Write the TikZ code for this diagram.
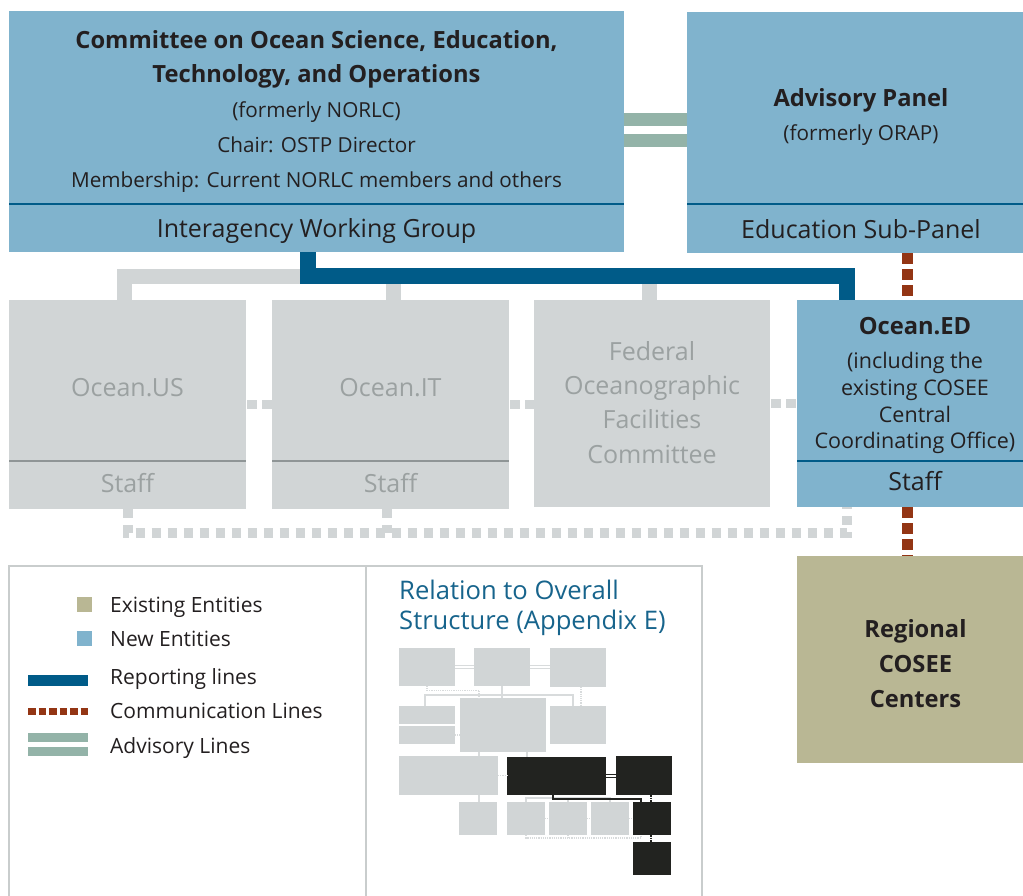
\documentclass[tikz,border=0pt]{standalone}
\usepackage{fontspec}
\setmainfont{Open Sans}
\usetikzlibrary{calc}

\definecolor{newblue}{HTML}{80B3CD}
\definecolor{repblue}{HTML}{005B88}
\definecolor{khaki}{HTML}{B9B794}
\definecolor{boxgrey}{HTML}{D1D5D6}
\definecolor{greytext}{HTML}{9BA1A1}
\definecolor{greyrule}{HTML}{8F9596}
\definecolor{advgreen}{HTML}{93B3A8}
\definecolor{commred}{HTML}{933514}
\definecolor{ink}{HTML}{231F20}
\definecolor{frame}{HTML}{C9CDCD}
\definecolor{titleblue}{HTML}{17648C}
\definecolor{miniblack}{HTML}{222320}
\definecolor{minigrey}{HTML}{D8DBDC}

% rectangle block given by its corners: name, x1, y1, x2, y2, style
\newcommand\blk[6]{\node[#6,minimum width={#4pt-#2pt},minimum height={#5pt-#3pt}] (#1) at (#2,#3) {};}
% one line of text: name, x, y (baseline), style, text
\newcommand\tline[5]{\node[#4] (#1) at (#2,#3) {#5};}

\begin{document}
\begin{tikzpicture}[x=1pt,y=-1pt,
  box/.style={rectangle, inner sep=0pt, outer sep=0pt, anchor=north west},
  newbox/.style={box, fill=newblue},
  oldbox/.style={box, fill=khaki},
  greybox/.style={box, fill=boxgrey},
  mgrey/.style={box, fill=boxgrey},
  mblack/.style={box, fill=miniblack},
  framebox/.style={box, draw=frame, line width=1.2pt},
  bluediv/.style={draw=repblue, line width=2.5pt},
  greydiv/.style={draw=greyrule, line width=2pt},
  report/.style={draw=repblue, line width=16pt, line join=miter},
  tree/.style={draw=boxgrey, line width=15pt, line join=miter},
  peerlink/.style={draw=boxgrey, line width=9pt, dash pattern=on 10pt off 5pt, dash phase=14pt},
  stafflink/.style={draw=boxgrey, line width=10pt, dash pattern=on 9pt off 7pt},
  comm/.style={draw=commred, line width=11pt, dash pattern=on 11pt off 5pt},
  advbar/.style={draw=advgreen, line width=13pt},
  txt/.style={anchor=base, inner sep=0pt, text=ink},
  bigt/.style={txt, font=\fontsize{25}{30}\selectfont},
  subt/.style={txt, font=\fontsize{20.7}{25}\selectfont},
  edsub/.style={txt, font=\fontsize{21.5}{26}\selectfont},
  boldt/.style={txt, font=\bfseries\fontsize{23.7}{28}\selectfont},
  greyt/.style={bigt, text=greytext},
  legt/.style={txt, anchor=base west, font=\fontsize{21}{25}\selectfont},
  relt/.style={txt, anchor=base west, text=titleblue, font=\fontsize{25.6}{30}\selectfont},
  mline/.style={draw=minigrey, line width=2.3pt, line join=miter},
  mdot/.style={draw=minigrey, line width=1.2pt, dash pattern=on 1.2pt off 1pt},
  mdouble/.style={draw=minigrey, line width=1.3pt, double=white, double distance=1.2pt},
  mdoubleblack/.style={draw=miniblack, line width=1.3pt, double=white, double distance=1.2pt},
  mblackline/.style={draw=miniblack, line width=2pt, line join=miter},
  mblackdot/.style={draw=miniblack, line width=1.3pt, dash pattern=on 1.6pt off 1pt},
]
\useasboundingbox (0,0) rectangle (1023,895);
\clip (0,0) rectangle (1023,895);

% ---------- main blocks ----------
\blk{cosc}{9}{11}{624}{252}{newbox}
\blk{advis}{687}{12}{1023}{253}{newbox}
\blk{ocus}{9}{300}{246}{509}{greybox}
\blk{ocit}{272}{300}{509}{509}{greybox}
\blk{fofc}{534}{300}{770}{507}{greybox}
\blk{oced}{797}{300}{1023}{507}{newbox}
\blk{regional}{797}{556}{1023}{763}{oldbox}

% dividers inside blocks
\draw[bluediv] ([yshift=-193pt]cosc.north west) -- ([yshift=-193pt]cosc.north east);
\draw[bluediv] ([yshift=-192pt]advis.north west) -- ([yshift=-192pt]advis.north east);
\draw[bluediv] ([yshift=-161pt]oced.north west) -- ([yshift=-161pt]oced.north east);
\draw[greydiv] ([yshift=-161pt]ocus.north west) -- ([yshift=-161pt]ocus.north east);
\draw[greydiv] ([yshift=-161pt]ocit.north west) -- ([yshift=-161pt]ocit.north east);

% ---------- connectors ----------
% advisory lines
\draw[advbar] ([yshift=-108.5pt]cosc.north east) -- ([yshift=-107.5pt]advis.north west);
\draw[advbar] ([yshift=-129.5pt]cosc.north east) -- ([yshift=-128.5pt]advis.north west);
% existing tree of the committee
\draw[tree] ([xshift=-3pt]ocus.north) -- ++(0,-24) -| ([xshift=-3pt]fofc.north);
\draw[tree] ([xshift=2.5pt]ocit.north) -- ++(0,-24);
% reporting line
\draw[report] ([xshift=-8.5pt]cosc.south) -- ++(0,24) -| ([xshift=-63pt]oced.north);
% peer links between programmes
\draw[peerlink] (ocus.east) -- (ocit.west);
\draw[peerlink] (ocit.east) -- (ocit.east -| fofc.west);
\draw[peerlink] (fofc.east) -- (fofc.east -| oced.west);
% links between staff offices
\draw[stafflink] (ocus.south) -- ++(0,24) -| ([xshift=-63pt]oced.south);
\draw[stafflink] ([xshift=-3.5pt]ocit.south) -- ++(0,24);
% communication lines
\draw[comm] ([xshift=52.5pt]advis.south) -- ([xshift=-2.5pt]oced.north);
\draw[comm] ([xshift=-2.5pt]oced.south) -- ([xshift=-2.5pt]regional.north);

% ---------- block texts ----------
\tline{t-cosc1}{316.5}{48}{boldt}{Committee on Ocean Science, Education,}
\tline{t-cosc2}{316.5}{82}{boldt}{Technology, and Operations}
\tline{t-cosc3}{316.5}{117}{subt}{(formerly NORLC)}
\tline{t-cosc4}{316.5}{152}{subt}{Chair: OSTP Director}
\tline{t-cosc5}{316.5}{187}{subt}{Membership: Current NORLC members and others}
\tline{t-iwg}{316.5}{237}{bigt}{Interagency Working Group}

\tline{t-adv1}{861}{106}{boldt}{Advisory Panel}
\tline{t-adv2}{861}{140}{subt}{(formerly ORAP)}
\tline{t-edsub}{861}{238}{bigt}{Education Sub-Panel}

\tline{t-us}{127.5}{396}{greyt}{Ocean.US}
\tline{t-usstaff}{127.5}{492}{greyt}{Staff}
\tline{t-it}{390.5}{396}{greyt}{Ocean.IT}
\tline{t-itstaff}{390.5}{492}{greyt}{Staff}

\tline{t-fofc1}{652}{360}{greyt}{Federal}
\tline{t-fofc2}{652}{394}{greyt}{Oceanographic}
\tline{t-fofc3}{652}{428}{greyt}{Facilities}
\tline{t-fofc4}{652}{463}{greyt}{Committee}

\tline{t-ed1}{915}{334}{boldt}{Ocean.ED}
\tline{t-ed2}{915}{368}{edsub}{(including the}
\tline{t-ed3}{915}{395}{edsub}{existing COSEE}
\tline{t-ed4}{915}{422}{edsub}{Central}
\tline{t-ed5}{915}{448}{edsub}{Coordinating Office)}
\tline{t-edstaff}{915}{490}{bigt}{Staff}

\tline{t-reg1}{915.5}{637}{boldt}{Regional}
\tline{t-reg2}{915.5}{672}{boldt}{COSEE}
\tline{t-reg3}{915.5}{707}{boldt}{Centers}

% ---------- legend ----------
\blk{legend}{9}{566}{366}{906}{framebox}
\blk{relation}{366}{566}{702}{906}{framebox}

\blk{swold}{77}{597}{92}{612}{oldbox}
\blk{swnew}{77}{631}{92}{646}{newbox}
\coordinate (rep-a) at (28,680.5);
\coordinate (rep-b) at (88,680.5);
\coordinate (com-a) at (28,711.5);
\coordinate (com-b) at (88,711.5);
\coordinate (adv-a) at (28,737.5);
\coordinate (adv-b) at (88,737.5);
\coordinate (adv-c) at (28,751.5);
\coordinate (adv-d) at (88,751.5);
\draw[report, line width=11pt] (rep-a) -- (rep-b);
\draw[comm, line width=7pt, dash pattern=on 7.6pt off 2.9pt] (com-a) -- (com-b);
\draw[advbar, line width=9pt] (adv-a) -- (adv-b);
\draw[advbar, line width=9pt] (adv-c) -- (adv-d);

\tline{l-old}{110}{612}{legt}{Existing Entities}
\tline{l-new}{110}{646}{legt}{New Entities}
\tline{l-rep}{110}{684}{legt}{Reporting lines}
\tline{l-com}{110}{718}{legt}{Communication Lines}
\tline{l-adv}{110}{753}{legt}{Advisory Lines}

\tline{r-title1}{399}{599}{relt}{Relation to Overall}
\tline{r-title2}{399}{629}{relt}{Structure (Appendix E)}

% ---------- overall structure in miniature ----------
\blk{mA}{399}{648}{455}{686}{mgrey}
\blk{mB}{474}{648}{530}{686}{mgrey}
\blk{mC}{550}{648}{606}{687}{mgrey}
\blk{mD1}{399}{706}{455}{724}{mgrey}
\blk{mD2}{399}{726}{455}{744}{mgrey}
\blk{mE}{460}{698}{546}{752}{mgrey}
\blk{mF}{550}{706}{606}{744}{mgrey}
\blk{mG}{399}{756}{498}{795}{mgrey}
\blk{mH}{507}{757}{606}{795}{mblack}
\blk{mI}{616}{756}{672}{795}{mblack}
\blk{mJ}{459}{802}{497}{835}{mgrey}
\blk{mK1}{507}{802}{545}{835}{mgrey}
\blk{mK2}{549}{802}{587}{835}{mgrey}
\blk{mK3}{591}{802}{629}{835}{mgrey}
\blk{mK4}{633}{802}{671}{835}{mblack}
\blk{mL}{633}{842}{671}{875}{mblack}

\draw[mdouble] (mA.east) -- (mB.west);
\draw[mdouble] (mB.east) -- (mB.east -| mC.west);
\draw[mdot] (mA.south) -- ++(0,4.5) -| ([xshift=-24pt]mE.north);
\draw[mline] ([xshift=-2pt]mD1.north) -- ++(0,-11) -| ([xshift=-5pt]mF.north);
\draw[mline] (mB.south) -- (mB.south |- mE.north);
\draw[mdot] ([xshift=3pt]mC.south) -- ([xshift=3pt]mF.north);
\draw[mdot] (mD2.east) -- (mD2.east -| mE.west);
\draw[mline] ([xshift=-24pt]mE.south) -- ([xshift=-24pt]mE.south |- mG.north);
\draw[mline] ([xshift=24pt]mE.south) -- ([xshift=24pt]mE.south |- mH.north);
\draw[mdot] (mG.east) -- (mG.east -| mH.west);
\draw[mdoubleblack] (mH.east) -- (mH.east -| mI.west);
\draw[mline] ([xshift=30.5pt]mG.south) -- ([xshift=30.5pt]mG.south |- mJ.north);
\draw[mline] (mK1.north) -- ++(0,-4) -| (mK3.north);
\draw[mline] (mK2.north) -- ++(0,-4);
\draw[mblackline] ([xshift=-3.5pt]mH.south) -- ++(0,3.5) -| ([xshift=-11pt]mK4.north);
\draw[mdot] (mK1.east) -- (mK2.west);
\draw[mdot] (mK2.east) -- (mK3.west);
\draw[mdot] (mK3.east) -- (mK4.west);
\draw[mdot] (mK1.south) -- ++(0,3) -| ([xshift=-11pt]mK4.south);
\draw[mdot] (mK2.south) -- ++(0,3);
\draw[mblackdot] ([xshift=7pt]mI.south) -- ([xshift=-1pt]mK4.north);
\draw[mblackdot] ([xshift=-1pt]mK4.south) -- ([xshift=-1pt]mL.north);
\end{tikzpicture}
\end{document}
